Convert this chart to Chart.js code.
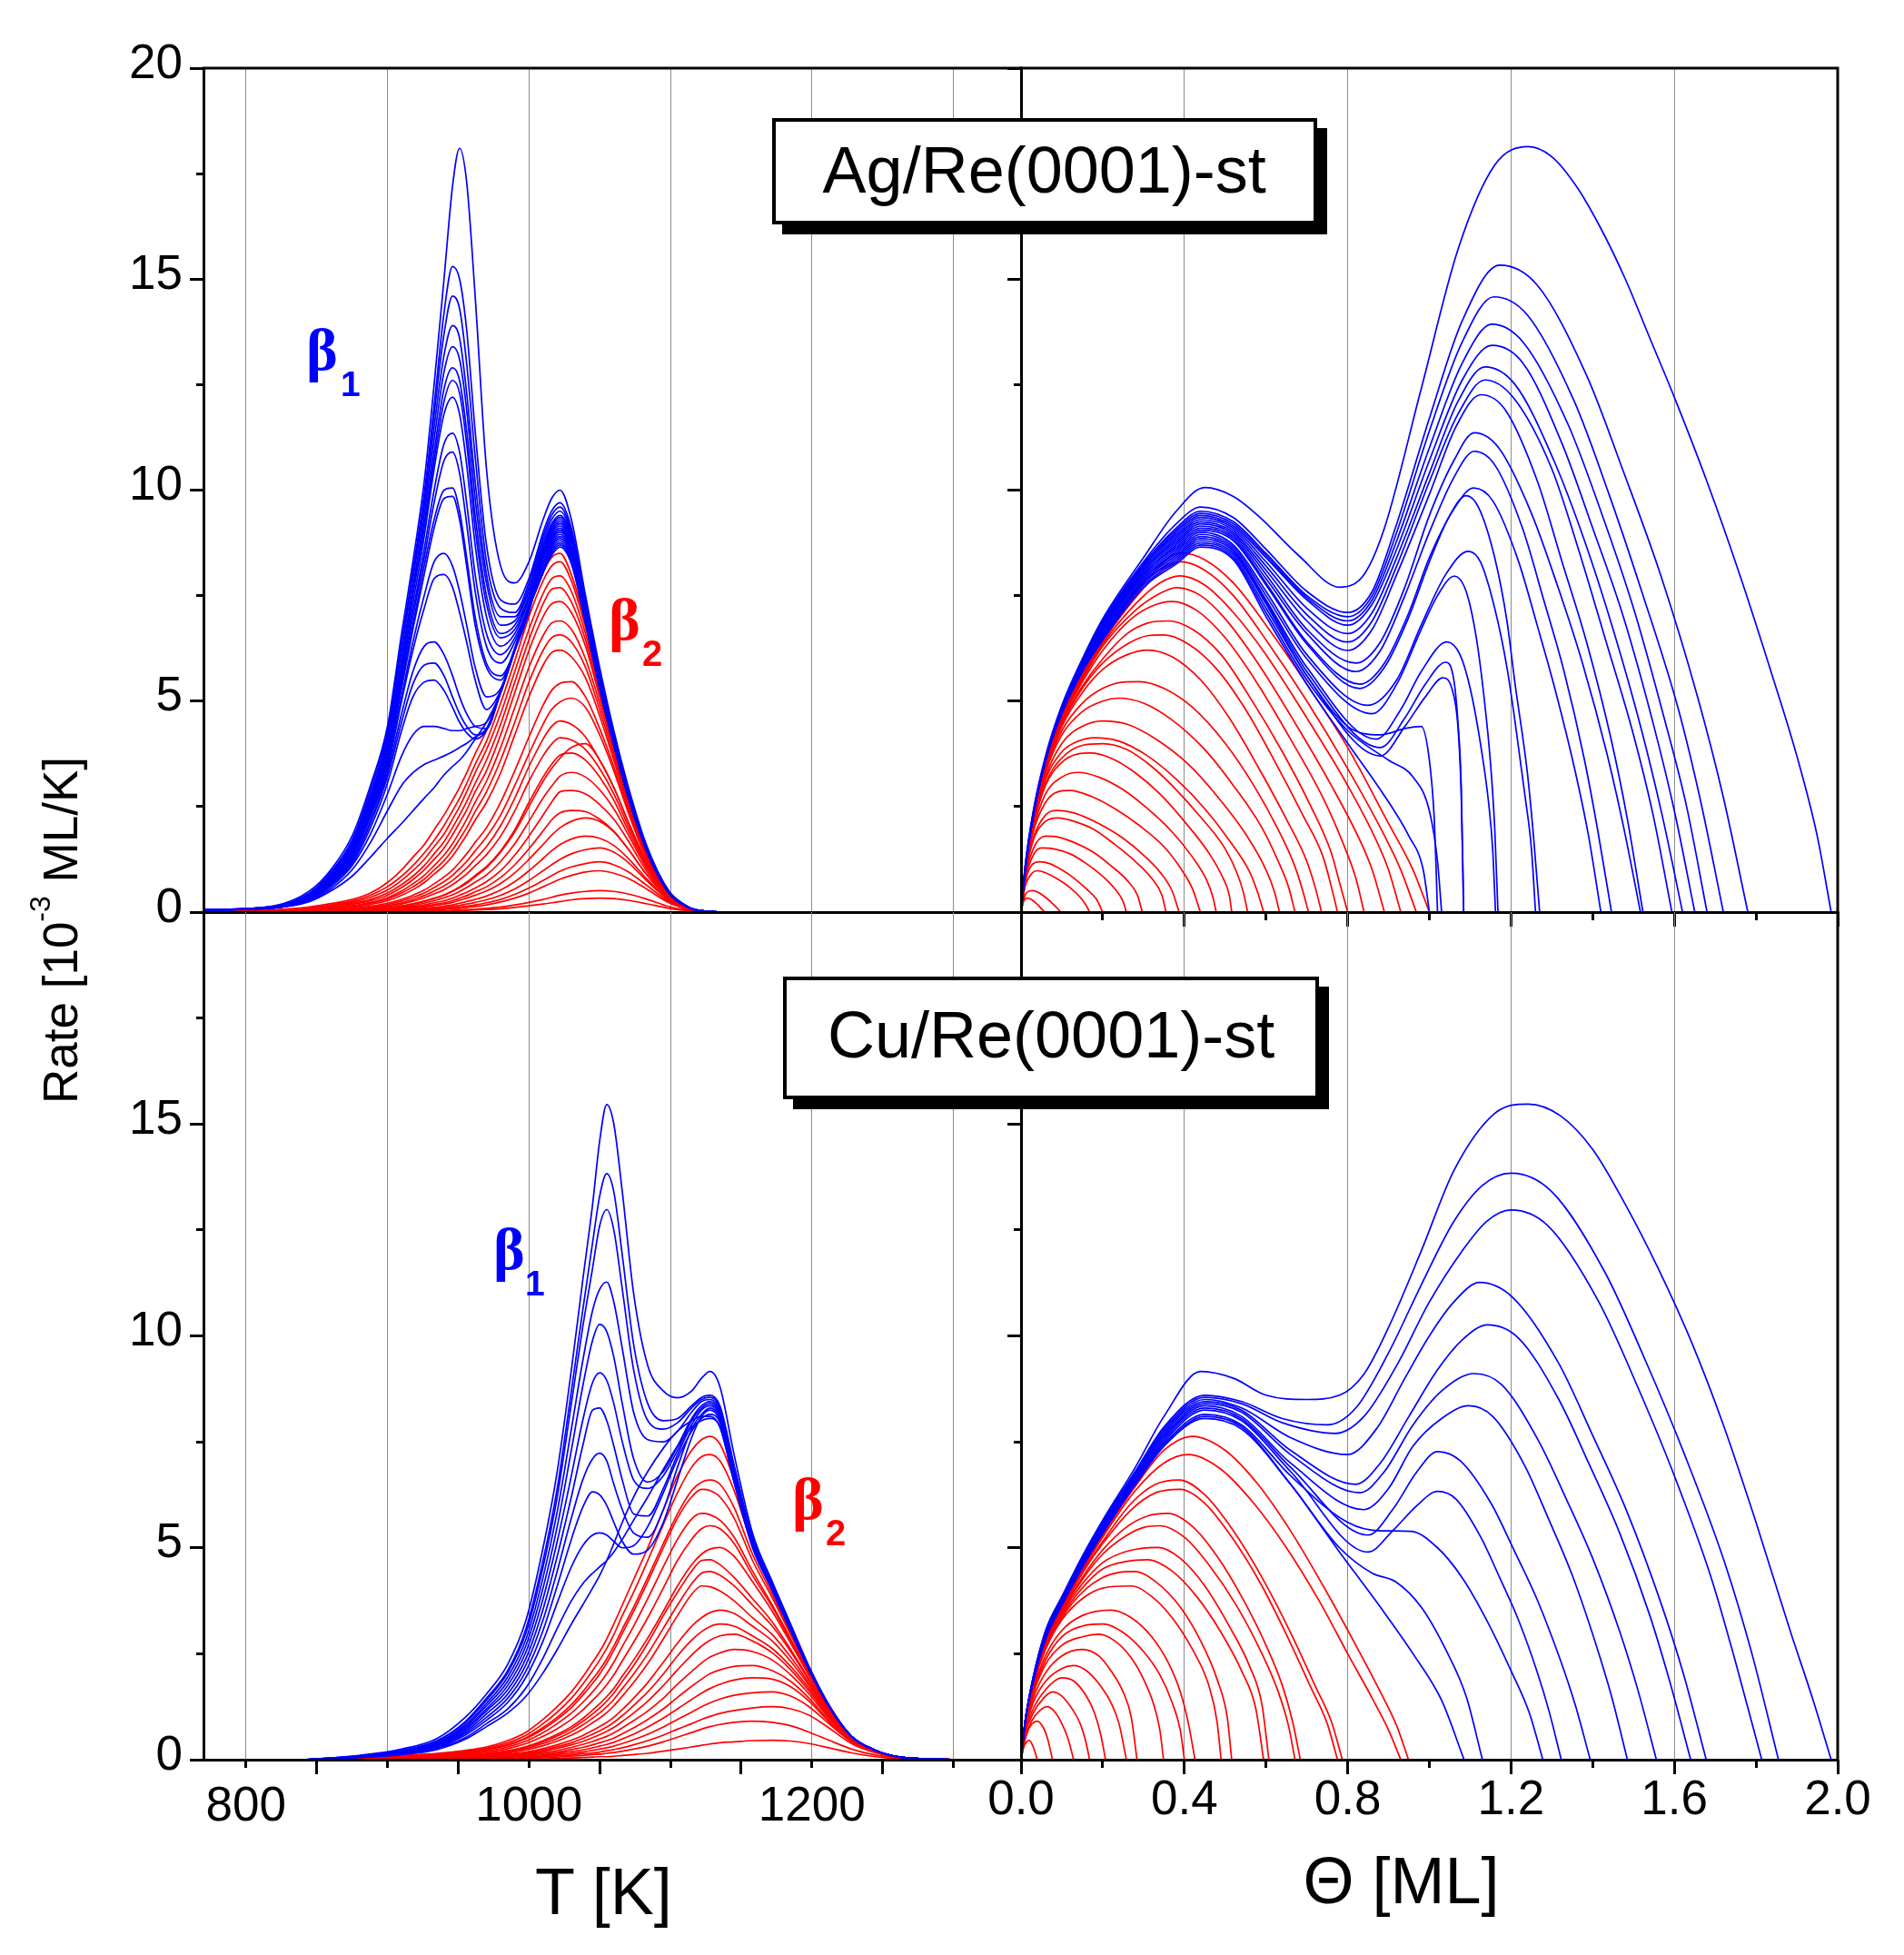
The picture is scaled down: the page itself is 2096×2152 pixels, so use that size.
<!DOCTYPE html>
<html><head><meta charset="utf-8">
<script src="https://cdn.jsdelivr.net/npm/chart.js@4.4.1/dist/chart.umd.min.js"></script>
<style>
html,body{margin:0;padding:0;background:#fff;}
#page{position:relative;width:2096px;height:2152px;overflow:hidden;background:#fff;}
canvas{position:absolute;left:0;top:0;}
.txt{position:absolute;white-space:nowrap;line-height:normal;}
.bl{display:inline-block;width:0;height:0;vertical-align:baseline;}
.box{position:absolute;box-sizing:border-box;border:4px solid #000;background:#fff;box-shadow:11px 11px 0 0 #000;}
</style></head>
<body><div id="page">
<canvas id="cTL" width="2096" height="2152" style="width:2096px;height:2152px"></canvas>
<canvas id="cTR" width="2096" height="2152" style="width:2096px;height:2152px"></canvas>
<canvas id="cBL" width="2096" height="2152" style="width:2096px;height:2152px"></canvas>
<canvas id="cBR" width="2096" height="2152" style="width:2096px;height:2152px"></canvas>
</div>
<script>
// ---------------- tick values ----------------
const rateMajorTicks = [0, 5, 10, 15, 20];
const rateMinorTicks = [0, 2.5, 5, 7.5, 10, 12.5, 15, 17.5, 20];
const tempGridTicks = [800, 900, 1000, 1100, 1200, 1300];
const tempLabelTicks = [800, 1000, 1200];
const tempLongTicks = [850, 950, 1050, 1150, 1250];
const thetaMajorTicks = [0, 0.4, 0.8, 1.2, 1.6, 2.0];
const thetaMinorTicks = [0.2, 0.6, 1.0, 1.4, 1.8];

// ---------------- Ag/Re(0001)-st : rate vs T ----------------
const agTempGrid = [770,820,845,860,875,888,900,910,918,926,933,940,946,951,956,962,970,980,990,1000,1010,1016,1022,1030,1040,1050,1060,1070,1083,1099,1110,1118,1140,1215];
const agBlueRate = [
[.05,.15,.5,1.0,1.8,3.0,4.4,6.6,8.3,10.2,12.5,15.0,17.2,18.1,17.3,14.6,10.5,8.2,7.8,8.3,9.3,9.8,10.0,9.3,7.5,5.8,4.3,3.0,1.6,.5,.18,.05,0,0],
[.05,.14,.45,.95,1.7,2.9,4.3,6.4,8.1,9.9,12.0,14.2,15.3,15.0,13.8,11.4,8.7,7.4,7.3,7.9,9.0,9.5,9.7,9.1,7.4,5.7,4.25,2.95,1.55,.48,.17,.05,0,0],
[.05,.14,.45,.9,1.7,2.8,4.2,6.3,8.0,9.8,11.8,13.7,14.6,14.3,13.0,10.8,8.3,7.2,7.1,7.8,8.9,9.4,9.6,9.0,7.35,5.65,4.2,2.9,1.55,.47,.17,.05,0,0],
[.05,.13,.42,.88,1.65,2.75,4.1,6.2,7.9,9.6,11.5,13.2,13.9,13.6,12.3,10.2,8.0,7.0,7.0,7.7,8.8,9.3,9.5,8.95,7.3,5.6,4.2,2.9,1.5,.46,.16,.05,0,0],
[.05,.13,.42,.87,1.6,2.7,4.0,6.0,7.7,9.4,11.2,12.8,13.4,13.1,11.9,9.8,7.8,6.8,6.9,7.6,8.7,9.2,9.4,8.9,7.25,5.6,4.15,2.9,1.5,.46,.16,.05,0,0],
[.05,.13,.4,.85,1.6,2.65,3.95,5.9,7.6,9.2,10.9,12.4,12.9,12.6,11.4,9.4,7.5,6.6,6.8,7.5,8.65,9.15,9.35,8.85,7.2,5.55,4.15,2.85,1.5,.45,.16,.05,0,0],
[.05,.12,.4,.84,1.55,2.6,3.9,5.8,7.5,9.1,10.7,12.1,12.6,12.3,11.1,9.1,7.3,6.5,6.7,7.45,8.6,9.1,9.3,8.8,7.2,5.55,4.1,2.85,1.5,.45,.16,.05,0,0],
[.05,.12,.38,.82,1.5,2.55,3.8,5.7,7.3,8.9,10.5,11.8,12.2,11.8,10.6,8.7,7.0,6.3,6.6,7.4,8.55,9.05,9.25,8.75,7.15,5.5,4.1,2.85,1.5,.45,.16,.05,0,0],
[.05,.12,.38,.8,1.5,2.5,3.7,5.6,7.1,8.6,10.0,11.1,11.35,10.9,9.7,8.0,6.6,6.1,6.5,7.3,8.5,9.0,9.2,8.7,7.1,5.5,4.1,2.85,1.5,.45,.16,.05,0,0],
[.05,.12,.37,.78,1.45,2.45,3.65,5.5,7.0,8.4,9.7,10.7,10.9,10.4,9.2,7.6,6.3,5.9,6.4,7.25,8.45,8.95,9.15,8.65,7.1,5.5,4.05,2.8,1.5,.45,.16,.05,0,0],
[.05,.11,.36,.76,1.4,2.4,3.6,5.4,6.8,8.2,9.3,10.0,10.05,9.5,8.4,7.0,5.9,5.6,6.2,7.1,8.4,8.9,9.1,8.6,7.05,5.45,4.05,2.8,1.5,.45,.16,.05,0,0],
[.05,.11,.36,.75,1.4,2.35,3.55,5.3,6.7,8.0,9.1,9.8,9.85,9.3,8.2,6.8,5.8,5.5,6.25,7.25,8.35,8.85,9.05,8.6,7.05,5.45,4.05,2.8,1.5,.45,.16,.05,0,0],
[.05,.11,.35,.72,1.35,2.3,3.45,5.1,6.4,7.5,8.3,8.5,8.2,7.6,6.8,5.8,5.1,5.3,6.25,7.25,8.25,8.8,9.0,8.55,7.0,5.4,4.0,2.8,1.5,.45,.16,.05,0,0],
[.05,.11,.34,.7,1.3,2.25,3.4,5.0,6.2,7.2,7.9,8.0,7.7,7.1,6.4,5.5,4.8,5.25,6.25,7.22,8.2,8.75,8.95,8.5,7.0,5.4,4.0,2.8,1.5,.45,.16,.05,0,0],
[.05,.1,.33,.68,1.25,2.15,3.3,4.7,5.7,6.3,6.4,6.1,5.6,5.1,4.7,4.4,4.35,5.22,6.22,7.22,8.1,8.7,8.9,8.5,6.95,5.4,4.0,2.8,1.5,.45,.16,.05,0,0],
[.05,.1,.32,.66,1.2,2.1,3.2,4.5,5.4,5.85,5.9,5.6,5.1,4.7,4.4,4.2,4.32,5.21,6.21,7.21,8.05,8.65,8.85,8.45,6.95,5.35,4.0,2.75,1.5,.45,.16,.05,0,0],
[.05,.1,.31,.64,1.15,2.0,3.05,4.3,5.1,5.45,5.5,5.25,4.85,4.5,4.25,4.1,4.31,5.2,6.2,7.2,8.05,8.6,8.8,8.4,6.9,5.35,4.0,2.75,1.5,.45,.16,.05,0,0],
[.05,.1,.3,.6,1.1,1.85,2.8,3.7,4.2,4.4,4.4,4.35,4.3,4.3,4.35,4.4,4.5,5.2,6.2,7.2,8.05,8.55,8.75,8.35,6.9,5.35,4.0,2.75,1.5,.45,.16,.05,0,0],
[.05,.1,.28,.55,1.0,1.65,2.4,3.0,3.3,3.5,3.6,3.7,3.8,3.9,4.0,4.15,4.35,5.2,6.2,7.2,8.05,8.5,8.7,8.3,6.85,5.3,3.95,2.75,1.5,.45,.16,.05,0,0],
[.05,.1,.25,.5,.85,1.3,1.75,2.1,2.4,2.7,2.95,3.25,3.45,3.6,3.8,4.1,4.5,5.2,6.2,7.2,8.05,8.45,8.65,8.25,6.85,5.3,3.95,2.75,1.45,.44,.15,.05,0,0]
];
const agRedRate = [
[0,.05,.12,.2,.3,.45,.7,1.0,1.3,1.6,1.95,2.3,2.65,2.95,3.3,3.75,4.3,5.2,6.2,7.2,8.05,8.4,8.5,8.0,6.85,5.45,4.1,2.8,1.45,.42,.15,.04,0,0],
[0,.05,.1,.17,.26,.4,.6,.85,1.1,1.4,1.7,2.05,2.4,2.7,3.05,3.5,4.05,4.95,5.95,7.0,7.85,8.2,8.3,7.85,6.75,5.4,4.05,2.75,1.43,.42,.15,.04,0,0],
[0,.04,.09,.15,.23,.35,.52,.75,.98,1.25,1.55,1.85,2.2,2.5,2.85,3.3,3.85,4.7,5.7,6.7,7.55,7.9,7.97,7.6,6.6,5.3,4.0,2.7,1.42,.42,.15,.04,0,0],
[0,.04,.08,.13,.2,.3,.45,.65,.85,1.1,1.38,1.67,2.0,2.3,2.62,3.05,3.6,4.45,5.45,6.45,7.3,7.65,7.69,7.35,6.45,5.2,3.95,2.68,1.4,.42,.15,.04,0,0],
[0,.04,.07,.12,.18,.27,.4,.58,.77,1.0,1.25,1.52,1.83,2.12,2.42,2.85,3.35,4.2,5.2,6.2,7.0,7.3,7.36,7.1,6.3,5.1,3.9,2.65,1.38,.41,.15,.04,0,0],
[0,.03,.06,.1,.15,.23,.34,.5,.67,.87,1.1,1.35,1.62,1.9,2.2,2.6,3.1,3.9,4.85,5.8,6.55,6.85,6.9,6.7,6.0,4.95,3.8,2.6,1.36,.41,.15,.04,0,0],
[0,.03,.05,.09,.14,.21,.31,.45,.6,.78,1.0,1.22,1.47,1.73,2.0,2.38,2.85,3.6,4.5,5.45,6.2,6.5,6.57,6.4,5.8,4.8,3.7,2.55,1.34,.4,.15,.04,0,0],
[0,.03,.05,.08,.12,.18,.27,.4,.53,.7,.9,1.1,1.33,1.57,1.83,2.18,2.6,3.3,4.2,5.1,5.85,6.15,6.21,6.05,5.55,4.65,3.6,2.5,1.32,.4,.15,.04,0,0],
[0,.02,.04,.06,.09,.14,.21,.3,.4,.52,.67,.83,1.0,1.18,1.38,1.65,2.0,2.6,3.35,4.15,4.9,5.25,5.42,5.46,5.1,4.35,3.45,2.42,1.3,.4,.15,.04,0,0],
[0,.02,.03,.05,.08,.12,.18,.26,.35,.45,.58,.72,.87,1.03,1.2,1.45,1.78,2.3,3.0,3.75,4.45,4.8,4.98,5.07,4.85,4.2,3.35,2.38,1.28,.4,.15,.04,0,0],
[0,.02,.03,.05,.07,.1,.15,.22,.3,.39,.5,.62,.75,.89,1.04,1.26,1.55,2.05,2.7,3.45,4.1,4.4,4.53,4.45,4.15,3.6,2.95,2.15,1.2,.38,.14,.04,0,0],
[0,.02,.03,.04,.06,.09,.13,.19,.26,.34,.43,.53,.65,.77,.9,1.1,1.36,1.8,2.4,3.1,3.7,3.98,4.13,4.08,3.85,3.4,2.8,2.05,1.15,.37,.14,.04,0,0],
[0,.01,.02,.03,.05,.07,.1,.14,.19,.25,.32,.4,.49,.58,.68,.84,1.05,1.42,1.9,2.5,3.1,3.4,3.65,3.9,3.99,3.6,2.95,2.15,1.2,.38,.14,.04,0,0],
[0,.01,.02,.03,.05,.07,.1,.15,.2,.26,.33,.41,.5,.6,.71,.87,1.08,1.45,1.95,2.6,3.2,3.5,3.72,3.77,3.6,3.2,2.65,1.95,1.1,.36,.13,.04,0,0],
[0,.01,.02,.03,.04,.06,.08,.12,.16,.21,.27,.34,.41,.49,.58,.71,.88,1.2,1.62,2.15,2.7,2.98,3.22,3.31,3.2,2.9,2.45,1.85,1.05,.35,.13,.04,0,0],
[0,.01,.02,.02,.03,.05,.07,.1,.13,.17,.22,.27,.33,.4,.47,.57,.72,.98,1.35,1.8,2.3,2.6,2.85,2.88,2.8,2.55,2.2,1.7,.98,.33,.12,.04,0,0],
[0,.01,.01,.02,.03,.04,.06,.08,.11,.14,.18,.22,.27,.33,.39,.48,.6,.82,1.12,1.5,1.92,2.18,2.35,2.41,2.38,2.2,1.92,1.5,.9,.31,.12,.04,0,0],
[0,.01,.01,.02,.02,.03,.05,.07,.09,.12,.15,.19,.23,.28,.33,.4,.5,.68,.93,1.25,1.6,1.82,2.0,2.15,2.23,2.15,1.9,1.5,.9,.31,.12,.04,0,0],
[0,.01,.01,.01,.02,.03,.04,.05,.07,.09,.11,.14,.17,.21,.25,.3,.38,.52,.72,.98,1.27,1.45,1.6,1.73,1.8,1.75,1.58,1.28,.8,.29,.11,.03,0,0],
[0,0,.01,.01,.02,.02,.03,.04,.05,.07,.09,.11,.13,.16,.19,.23,.29,.4,.55,.75,.98,1.12,1.25,1.38,1.48,1.52,1.42,1.18,.75,.28,.1,.03,0,0],
[0,0,.01,.01,.01,.02,.02,.03,.04,.05,.07,.08,.1,.12,.14,.17,.22,.3,.42,.57,.75,.86,.97,1.07,1.15,1.19,1.12,.96,.64,.25,.1,.03,0,0],
[0,0,0,.01,.01,.01,.02,.03,.03,.04,.05,.06,.08,.09,.11,.13,.17,.24,.33,.45,.6,.69,.78,.87,.95,.98,.92,.8,.55,.22,.09,.03,0,0],
[0,0,0,0,.01,.01,.01,.02,.02,.02,.03,.03,.04,.05,.06,.07,.09,.12,.17,.23,.3,.35,.4,.45,.49,.51,.49,.43,.31,.13,.06,.02,0,0],
[0,0,0,0,0,.01,.01,.01,.01,.02,.02,.02,.03,.03,.04,.05,.06,.08,.11,.15,.19,.22,.25,.29,.32,.33,.32,.28,.2,.09,.04,.01,0,0]
];

// ---------------- Ag/Re(0001)-st : rate vs coverage ([theta, rate]) ----------------
const agThetaBlue = [
[[0,0],[0.01,1.1],[0.03,2.4],[0.06,3.7],[0.1,4.9],[0.15,6.0],[0.2,6.95],[0.3,8.4],[0.38,9.5],[0.45,10.06],[0.52,9.85],[0.58,9.4],[0.68,8.45],[0.78,7.7],[0.84,8.0],[0.89,9.1],[0.98,12.4],[1.07,15.7],[1.16,17.7],[1.242,18.14],[1.3,17.9],[1.36,17.2],[1.42,16.2],[1.48,15.0],[1.54,13.6],[1.6,12.2],[1.68,10.2],[1.76,8.0],[1.84,5.6],[1.9,3.7],[1.95,1.8],[1.984,0]],
[[0,0],[0.01,1.05],[0.03,2.35],[0.06,3.65],[0.1,4.85],[0.15,5.95],[0.2,6.9],[0.3,8.3],[0.38,9.2],[0.44,9.6],[0.52,9.35],[0.6,8.6],[0.7,7.6],[0.8,7.1],[0.86,7.6],[0.92,9.2],[1.0,11.7],[1.08,14.0],[1.172,15.33],[1.263,14.87],[1.385,12.72],[1.476,10.42],[1.567,7.97],[1.658,5.06],[1.719,2.76],[1.78,0]],
[[0,0],[0.01,1.05],[0.03,2.35],[0.06,3.65],[0.1,4.85],[0.15,5.9],[0.2,6.85],[0.3,8.25],[0.38,9.1],[0.44,9.5],[0.52,9.25],[0.6,8.5],[0.7,7.5],[0.8,7.0],[0.86,7.5],[0.92,9.0],[1.0,11.4],[1.08,13.5],[1.158,14.58],[1.24,14.15],[1.355,12.1],[1.44,9.9],[1.52,7.6],[1.61,4.8],[1.665,2.6],[1.72,0]],
[[0,0],[0.01,1.05],[0.03,2.35],[0.06,3.65],[0.1,4.85],[0.15,5.9],[0.2,6.85],[0.3,8.25],[0.38,9.05],[0.44,9.45],[0.52,9.2],[0.6,8.45],[0.7,7.45],[0.8,6.9],[0.86,7.4],[0.92,8.8],[1.0,11.0],[1.08,13.0],[1.153,13.93],[1.23,13.5],[1.34,11.55],[1.42,9.5],[1.5,7.2],[1.575,4.6],[1.63,2.5],[1.68,0]],
[[0,0],[0.01,1.0],[0.03,2.3],[0.06,3.6],[0.1,4.8],[0.15,5.9],[0.2,6.8],[0.3,8.2],[0.38,9.0],[0.44,9.4],[0.52,9.15],[0.6,8.4],[0.7,7.4],[0.8,6.8],[0.86,7.3],[0.92,8.6],[1.0,10.7],[1.08,12.6],[1.153,13.43],[1.23,13.0],[1.325,11.1],[1.4,9.1],[1.475,7.0],[1.55,4.4],[1.6,2.4],[1.65,0]],
[[0,0],[0.01,1.0],[0.03,2.3],[0.06,3.6],[0.1,4.8],[0.15,5.9],[0.2,6.8],[0.3,8.2],[0.38,8.95],[0.44,9.35],[0.52,9.1],[0.6,8.3],[0.7,7.2],[0.8,6.6],[0.86,7.1],[0.92,8.4],[1.0,10.4],[1.07,12.1],[1.136,12.92],[1.21,12.5],[1.305,10.7],[1.38,8.8],[1.45,6.7],[1.52,4.3],[1.57,2.3],[1.62,0]],
[[0,0],[0.01,1.0],[0.03,2.3],[0.06,3.6],[0.1,4.8],[0.15,5.85],[0.2,6.75],[0.3,8.15],[0.38,8.9],[0.44,9.3],[0.52,9.05],[0.6,8.2],[0.7,7.05],[0.8,6.4],[0.86,6.9],[0.92,8.2],[1.0,10.2],[1.07,11.8],[1.136,12.61],[1.205,12.2],[1.3,10.5],[1.365,8.6],[1.43,6.5],[1.5,4.2],[1.548,2.3],[1.594,0]],
[[0,0],[0.01,1.0],[0.03,2.3],[0.06,3.6],[0.1,4.8],[0.15,5.85],[0.2,6.75],[0.3,8.1],[0.38,8.85],[0.44,9.25],[0.52,9.0],[0.6,8.1],[0.7,6.9],[0.8,6.2],[0.86,6.7],[0.92,8.0],[1.0,9.9],[1.065,11.5],[1.126,12.26],[1.186,11.9],[1.265,10.2],[1.325,8.3],[1.385,6.4],[1.445,4.1],[1.485,2.2],[1.523,0]],
[[0,0],[0.01,1.0],[0.03,2.3],[0.06,3.6],[0.1,4.8],[0.15,5.85],[0.2,6.7],[0.3,8.1],[0.38,8.8],[0.44,9.2],[0.52,8.95],[0.6,8.0],[0.7,6.7],[0.82,5.9],[0.88,6.4],[0.94,7.7],[1.0,9.4],[1.06,10.7],[1.11,11.36],[1.17,11.0],[1.25,9.45],[1.315,7.7],[1.375,5.9],[1.435,3.75],[1.476,2.0],[1.517,0]],
[[0,0],[0.01,1.0],[0.03,2.3],[0.06,3.6],[0.1,4.8],[0.15,5.8],[0.2,6.7],[0.3,8.05],[0.38,8.75],[0.44,9.15],[0.52,8.9],[0.6,7.9],[0.7,6.6],[0.82,5.7],[0.88,6.2],[0.94,7.5],[1.0,9.0],[1.06,10.3],[1.11,10.92],[1.16,10.6],[1.228,9.1],[1.28,7.4],[1.33,5.7],[1.38,3.6],[1.413,1.9],[1.446,0]],
[[0,0],[0.01,1.0],[0.03,2.3],[0.06,3.6],[0.1,4.8],[0.15,5.8],[0.2,6.7],[0.3,8.0],[0.38,8.7],[0.44,9.1],[0.52,8.85],[0.6,7.8],[0.7,6.4],[0.83,5.4],[0.89,5.9],[0.95,7.1],[1.0,8.4],[1.06,9.55],[1.108,10.05],[1.155,9.75],[1.217,8.35],[1.264,6.8],[1.31,5.2],[1.358,3.3],[1.39,1.8],[1.42,0]],
[[0,0],[0.01,1.0],[0.03,2.3],[0.06,3.6],[0.1,4.8],[0.15,5.8],[0.2,6.65],[0.3,8.0],[0.38,8.65],[0.44,9.05],[0.52,8.8],[0.6,7.75],[0.7,6.35],[0.83,5.3],[0.89,5.8],[0.95,7.0],[1.0,8.3],[1.05,9.4],[1.09,9.87],[1.12,9.6],[1.16,8.4],[1.19,6.9],[1.21,5.4],[1.24,3.3],[1.255,1.8],[1.27,0]],
[[0,0],[0.01,1.0],[0.03,2.3],[0.06,3.6],[0.1,4.8],[0.15,5.8],[0.2,6.65],[0.3,7.95],[0.38,8.6],[0.44,9.0],[0.52,8.7],[0.6,7.6],[0.7,6.1],[0.85,4.9],[0.92,5.5],[0.98,6.8],[1.04,8.0],[1.095,8.55],[1.125,8.3],[1.16,7.2],[1.19,5.8],[1.21,4.5],[1.235,2.7],[1.25,1.5],[1.26,0]],
[[0,0],[0.01,1.0],[0.03,2.3],[0.06,3.6],[0.1,4.8],[0.15,5.8],[0.2,6.6],[0.3,7.9],[0.38,8.55],[0.44,8.95],[0.52,8.65],[0.6,7.5],[0.7,6.0],[0.86,4.7],[0.92,5.4],[0.98,6.7],[1.02,7.5],[1.061,7.96],[1.09,7.6],[1.115,6.5],[1.135,5.0],[1.15,3.5],[1.16,2.0],[1.168,0]],
[[0,0],[0.01,1.0],[0.03,2.3],[0.06,3.6],[0.1,4.8],[0.15,5.8],[0.2,6.6],[0.3,7.9],[0.38,8.5],[0.44,8.9],[0.52,8.6],[0.6,7.4],[0.7,5.8],[0.87,4.1],[0.93,4.8],[0.98,5.7],[1.043,6.4],[1.075,6.1],[1.1,5.3],[1.125,4.0],[1.145,2.6],[1.155,1.5],[1.162,0]],
[[0,0],[0.01,1.0],[0.03,2.3],[0.06,3.6],[0.1,4.8],[0.15,5.75],[0.2,6.55],[0.3,7.85],[0.38,8.45],[0.44,8.85],[0.52,8.55],[0.6,7.35],[0.7,5.7],[0.88,3.9],[0.94,4.6],[0.99,5.4],[1.04,5.92],[1.06,5.5],[1.07,4.5],[1.078,3.0],[1.084,0]],
[[0,0],[0.01,1.0],[0.03,2.3],[0.06,3.6],[0.1,4.75],[0.15,5.75],[0.2,6.55],[0.3,7.8],[0.38,8.4],[0.44,8.8],[0.52,8.5],[0.6,7.3],[0.7,5.6],[0.88,3.7],[0.94,4.4],[0.99,5.1],[1.033,5.55],[1.055,5.3],[1.07,4.4],[1.078,2.8],[1.084,0]],
[[0,0],[0.01,1.0],[0.03,2.3],[0.06,3.6],[0.1,4.75],[0.15,5.75],[0.2,6.5],[0.3,7.8],[0.38,8.35],[0.44,8.75],[0.52,8.45],[0.6,7.2],[0.7,5.6],[0.8,4.4],[0.88,4.2],[0.94,4.35],[0.98,4.4],[1.0,3.6],[1.012,2.2],[1.02,0]],
[[0,0],[0.01,1.0],[0.03,2.3],[0.06,3.6],[0.1,4.75],[0.15,5.7],[0.2,6.5],[0.3,7.75],[0.38,8.3],[0.44,8.7],[0.52,8.4],[0.6,7.1],[0.7,5.5],[0.8,4.3],[0.9,3.6],[0.96,3.2],[1.0,2.4],[1.02,1.2],[1.03,0]],
[[0,0],[0.01,1.0],[0.03,2.3],[0.06,3.6],[0.1,4.7],[0.15,5.7],[0.2,6.45],[0.3,7.7],[0.38,8.25],[0.44,8.65],[0.52,8.35],[0.6,7.0],[0.7,5.4],[0.8,4.0],[0.88,2.9],[0.95,1.8],[0.985,1.0],[1.0,0]]
];
const agThetaRed = [
[[0,0],[0.01,.95],[0.03,2.2],[0.06,3.5],[0.1,4.65],[0.15,5.65],[0.2,6.45],[0.28,7.55],[0.34,8.2],[0.39,8.51],[0.45,8.35],[0.52,7.8],[0.6,6.8],[0.7,5.4],[0.8,3.9],[0.9,2.1],[0.96,1.0],[1.0,0]],
[[0,0],[0.01,.95],[0.03,2.2],[0.06,3.5],[0.1,4.65],[0.15,5.6],[0.2,6.4],[0.28,7.45],[0.34,8.05],[0.39,8.3],[0.45,8.1],[0.52,7.5],[0.6,6.45],[0.7,5.0],[0.8,3.4],[0.88,2.0],[0.93,1.0],[0.968,0]],
[[0,0],[0.01,.95],[0.03,2.2],[0.06,3.5],[0.1,4.6],[0.15,5.55],[0.2,6.35],[0.28,7.3],[0.34,7.8],[0.39,7.97],[0.45,7.75],[0.52,7.1],[0.6,6.1],[0.7,4.6],[0.8,3.0],[0.87,1.7],[0.9,1.0],[0.93,0]],
[[0,0],[0.01,.95],[0.03,2.2],[0.06,3.5],[0.1,4.6],[0.15,5.5],[0.2,6.3],[0.28,7.15],[0.34,7.55],[0.38,7.69],[0.44,7.5],[0.5,6.95],[0.58,5.9],[0.67,4.5],[0.76,3.0],[0.83,1.7],[0.86,1.0],[0.89,0]],
[[0,0],[0.01,.95],[0.03,2.2],[0.06,3.5],[0.1,4.55],[0.15,5.45],[0.2,6.2],[0.27,6.95],[0.32,7.25],[0.37,7.36],[0.43,7.15],[0.5,6.5],[0.58,5.4],[0.66,4.1],[0.74,2.7],[0.79,1.6],[0.82,.8],[0.84,0]],
[[0,0],[0.01,.95],[0.03,2.2],[0.06,3.45],[0.1,4.5],[0.15,5.35],[0.2,6.0],[0.26,6.6],[0.31,6.85],[0.36,6.9],[0.42,6.7],[0.49,6.1],[0.56,5.1],[0.64,3.8],[0.71,2.5],[0.76,1.4],[0.78,.7],[0.8,0]],
[[0,0],[0.01,.95],[0.03,2.2],[0.06,3.45],[0.1,4.45],[0.15,5.3],[0.2,5.9],[0.26,6.35],[0.31,6.55],[0.35,6.57],[0.41,6.35],[0.48,5.75],[0.55,4.8],[0.62,3.6],[0.69,2.3],[0.74,1.3],[0.76,.6],[0.775,0]],
[[0,0],[0.01,.95],[0.03,2.2],[0.06,3.4],[0.1,4.4],[0.15,5.2],[0.2,5.75],[0.26,6.1],[0.31,6.21],[0.37,6.05],[0.44,5.5],[0.51,4.6],[0.58,3.45],[0.65,2.2],[0.7,1.2],[0.72,.6],[0.736,0]],
[[0,0],[0.01,.95],[0.03,2.15],[0.06,3.35],[0.1,4.3],[0.15,4.95],[0.2,5.3],[0.25,5.45],[0.29,5.46],[0.35,5.3],[0.42,4.85],[0.5,4.0],[0.57,3.0],[0.63,1.95],[0.67,1.1],[0.69,.5],[0.704,0]],
[[0,0],[0.01,.95],[0.03,2.15],[0.06,3.3],[0.1,4.2],[0.15,4.75],[0.2,5.0],[0.24,5.07],[0.3,4.95],[0.37,4.55],[0.45,3.85],[0.52,3.0],[0.59,2.0],[0.63,1.2],[0.655,.6],[0.671,0]],
[[0,0],[0.01,.95],[0.03,2.1],[0.06,3.2],[0.1,4.0],[0.15,4.4],[0.2,4.53],[0.26,4.45],[0.33,4.1],[0.41,3.5],[0.48,2.75],[0.55,1.85],[0.6,1.0],[0.62,.5],[0.633,0]],
[[0,0],[0.01,.95],[0.03,2.1],[0.06,3.15],[0.1,3.8],[0.14,4.05],[0.18,4.13],[0.24,4.05],[0.31,3.7],[0.38,3.15],[0.45,2.45],[0.51,1.7],[0.56,.95],[0.58,.45],[0.594,0]],
[[0,0],[0.01,.95],[0.03,2.05],[0.06,3.05],[0.1,3.65],[0.15,3.95],[0.2,3.99],[0.26,3.85],[0.32,3.45],[0.38,2.9],[0.44,2.25],[0.5,1.5],[0.53,.9],[0.545,.45],[0.555,0]],
[[0,0],[0.01,.95],[0.03,2.05],[0.06,3.0],[0.1,3.55],[0.14,3.75],[0.17,3.77],[0.22,3.65],[0.28,3.3],[0.34,2.8],[0.4,2.15],[0.46,1.4],[0.495,.8],[0.51,.4],[0.516,0]],
[[0,0],[0.01,.9],[0.03,1.95],[0.06,2.8],[0.1,3.2],[0.14,3.31],[0.19,3.2],[0.25,2.9],[0.31,2.45],[0.37,1.9],[0.42,1.3],[0.455,.75],[0.47,.35],[0.478,0]],
[[0,0],[0.01,.9],[0.03,1.9],[0.06,2.6],[0.09,2.85],[0.12,2.88],[0.17,2.75],[0.23,2.45],[0.29,2.05],[0.35,1.55],[0.39,1.05],[0.42,.55],[0.439,0]],
[[0,0],[0.01,.85],[0.03,1.75],[0.06,2.3],[0.09,2.41],[0.13,2.35],[0.19,2.1],[0.25,1.75],[0.3,1.35],[0.34,.95],[0.37,.5],[0.387,0]],
[[0,0],[0.01,.85],[0.03,1.7],[0.06,2.15],[0.09,2.23],[0.13,2.15],[0.18,1.95],[0.23,1.6],[0.28,1.2],[0.32,.8],[0.345,.4],[0.355,0]],
[[0,0],[0.01,.8],[0.03,1.5],[0.06,1.8],[0.09,1.78],[0.13,1.65],[0.18,1.4],[0.22,1.1],[0.26,.75],[0.285,.4],[0.297,0]],
[[0,0],[0.01,.75],[0.03,1.35],[0.05,1.52],[0.08,1.5],[0.12,1.38],[0.16,1.15],[0.2,.85],[0.23,.55],[0.25,.25],[0.258,0]],
[[0,0],[0.01,.7],[0.025,1.1],[0.045,1.19],[0.07,1.15],[0.1,1.0],[0.13,.8],[0.16,.55],[0.185,.3],[0.2,0]],
[[0,0],[0.01,.6],[0.025,.9],[0.04,.98],[0.06,.93],[0.09,.78],[0.12,.58],[0.145,.35],[0.16,.15],[0.168,0]],
[[0,0],[0.008,.35],[0.02,.5],[0.03,.51],[0.045,.45],[0.06,.35],[0.075,.22],[0.09,.08],[0.097,0]],
[[0,0],[0.006,.25],[0.015,.33],[0.025,.3],[0.038,.2],[0.05,.08],[0.058,0]]
];

// ---------------- Cu/Re(0001)-st : rate vs T ----------------
const cuTempGrid = [842,880,910,935,955,970,985,998,1010,1020,1030,1038,1045,1050,1055,1060,1066,1074,1084,1095,1105,1115,1122,1128,1135,1145,1158,1172,1185,1198,1212,1228,1245,1262,1280,1308];
const cuBlueRate = [
[0,.1,.25,.5,1.0,1.55,2.25,3.3,5.0,6.8,9.2,11.3,13.1,14.6,15.46,15.0,13.4,11.0,9.3,8.7,8.54,8.7,9.0,9.16,8.8,7.2,5.35,4.2,3.2,2.2,1.3,.55,.22,.06,.02,0],
[0,.09,.22,.45,.9,1.45,2.1,3.1,4.7,6.4,8.7,10.6,12.2,13.3,13.83,13.4,11.9,9.8,8.4,8.0,8.05,8.35,8.55,8.6,8.35,6.95,5.25,4.15,3.15,2.17,1.28,.55,.22,.06,.02,0],
[0,.09,.21,.43,.87,1.4,2.05,3.0,4.55,6.2,8.4,10.2,11.6,12.6,12.98,12.5,11.1,9.2,8.0,7.8,7.95,8.3,8.5,8.55,8.3,6.9,5.2,4.1,3.12,2.15,1.27,.55,.22,.06,.02,0],
[0,.08,.2,.4,.82,1.33,1.95,2.85,4.3,5.85,7.8,9.4,10.6,11.1,11.27,10.8,9.7,8.2,7.55,7.5,7.75,8.2,8.45,8.5,8.25,6.85,5.2,4.1,3.1,2.15,1.27,.55,.22,.06,.02,0],
[0,.08,.19,.38,.78,1.27,1.85,2.7,4.05,5.5,7.3,8.8,9.9,10.27,10.1,9.5,8.4,7.1,6.55,6.8,7.4,8.05,8.35,8.45,8.2,6.8,5.15,4.08,3.1,2.15,1.27,.55,.22,.06,.02,0],
[0,.08,.18,.36,.74,1.2,1.75,2.55,3.8,5.15,6.7,8.0,8.9,9.13,8.95,8.4,7.5,6.6,6.4,6.7,7.3,8.0,8.3,8.4,8.15,6.75,5.15,4.07,3.1,2.15,1.27,.55,.22,.06,.02,0],
[0,.07,.17,.34,.7,1.15,1.65,2.4,3.55,4.8,6.2,7.4,8.25,8.3,8.0,7.4,6.6,5.8,5.75,6.4,7.2,7.9,8.25,8.35,8.1,6.7,5.1,4.05,3.1,2.15,1.27,.55,.22,.06,.02,0],
[0,.07,.16,.32,.66,1.08,1.55,2.25,3.3,4.45,5.7,6.6,7.1,7.23,7.05,6.5,5.9,5.35,5.25,5.9,6.9,7.8,8.15,8.3,8.05,6.7,5.1,4.05,3.1,2.15,1.27,.55,.22,.06,.02,0],
[0,.07,.15,.3,.62,1.0,1.45,2.1,3.05,4.1,5.2,5.95,6.32,6.25,6.0,5.6,5.15,4.85,4.95,5.6,6.6,7.6,8.1,8.25,8.0,6.65,5.1,4.05,3.1,2.15,1.27,.55,.22,.06,.02,0],
[0,.06,.14,.28,.58,.93,1.35,1.95,2.8,3.7,4.55,5.05,5.3,5.35,5.3,5.15,5.0,5.05,5.5,6.3,7.1,7.75,8.05,8.15,7.95,6.6,5.05,4.0,3.05,2.12,1.26,.55,.22,.06,.02,0],
[0,.06,.13,.26,.52,.85,1.2,1.7,2.4,3.1,3.75,4.15,4.4,4.55,4.7,4.9,5.2,5.65,6.2,6.85,7.4,7.85,8.0,8.05,7.85,6.55,5.05,4.0,3.05,2.12,1.26,.55,.22,.06,.02,0],
[0,.05,.12,.24,.48,.78,1.1,1.5,2.05,2.6,3.2,3.65,4.05,4.35,4.7,5.1,5.6,6.2,6.8,7.35,7.75,8.0,8.1,8.1,7.85,6.55,5.0,4.0,3.05,2.12,1.26,.55,.22,.06,.02,0]
];
const cuRedRate = [
[0,.05,.1,.15,.22,.3,.45,.65,.95,1.25,1.6,1.95,2.3,2.55,2.85,3.2,3.65,4.25,5.0,5.9,6.7,7.3,7.55,7.63,7.45,6.6,5.15,4.05,3.05,2.12,1.25,.54,.21,.06,.02,0],
[0,.04,.09,.13,.2,.27,.4,.58,.85,1.12,1.45,1.78,2.1,2.35,2.63,2.95,3.4,3.95,4.7,5.55,6.3,6.9,7.15,7.2,7.05,6.35,5.05,4.0,3.02,2.1,1.24,.54,.21,.06,.02,0],
[0,.04,.08,.12,.18,.25,.36,.52,.76,1.0,1.3,1.6,1.9,2.12,2.38,2.68,3.08,3.6,4.3,5.1,5.8,6.35,6.55,6.6,6.5,5.95,4.85,3.9,2.98,2.08,1.23,.53,.21,.06,.02,0],
[0,.04,.08,.12,.17,.24,.34,.5,.72,.95,1.23,1.52,1.8,2.02,2.28,2.58,2.98,3.5,4.2,5.0,5.7,6.2,6.38,6.35,6.2,5.7,4.7,3.82,2.95,2.06,1.22,.53,.21,.06,.02,0],
[0,.03,.07,.1,.15,.21,.3,.44,.64,.85,1.1,1.35,1.6,1.8,2.03,2.3,2.67,3.15,3.8,4.55,5.2,5.68,5.81,5.78,5.65,5.25,4.45,3.65,2.85,2.02,1.2,.52,.21,.06,.02,0],
[0,.03,.06,.09,.13,.18,.26,.38,.55,.73,.95,1.17,1.4,1.57,1.77,2.0,2.33,2.77,3.35,4.05,4.7,5.2,5.45,5.52,5.45,5.1,4.35,3.6,2.8,2.0,1.19,.52,.21,.06,.02,0],
[0,.03,.05,.08,.11,.15,.21,.31,.45,.6,.78,.97,1.17,1.32,1.49,1.68,1.97,2.35,2.87,3.5,4.1,4.6,4.85,4.97,5.01,4.8,4.2,3.5,2.75,1.98,1.18,.52,.21,.06,.02,0],
[0,.02,.05,.07,.1,.14,.2,.29,.42,.56,.73,.9,1.08,1.22,1.38,1.57,1.85,2.22,2.75,3.4,3.95,4.45,4.7,4.72,4.6,4.3,3.8,3.25,2.6,1.9,1.15,.51,.2,.06,.02,0],
[0,.02,.04,.06,.09,.13,.18,.26,.38,.5,.66,.82,.98,1.1,1.25,1.42,1.68,2.02,2.5,3.1,3.65,4.15,4.4,4.44,4.35,4.1,3.65,3.15,2.55,1.87,1.14,.51,.2,.06,.02,0],
[0,.02,.04,.06,.08,.11,.16,.23,.33,.44,.58,.72,.87,.98,1.11,1.27,1.5,1.82,2.27,2.85,3.4,3.9,4.1,4.08,3.98,3.75,3.35,2.95,2.42,1.8,1.1,.5,.2,.06,.02,0],
[0,.02,.03,.05,.07,.09,.13,.18,.26,.35,.46,.57,.69,.78,.88,1.0,1.18,1.45,1.82,2.3,2.75,3.15,3.35,3.47,3.53,3.45,3.15,2.8,2.32,1.75,1.08,.49,.2,.06,.02,0],
[0,.01,.03,.04,.06,.08,.11,.16,.23,.31,.4,.5,.6,.68,.77,.88,1.04,1.28,1.6,2.02,2.45,2.82,3.02,3.14,3.2,3.15,2.92,2.62,2.2,1.68,1.05,.48,.2,.06,.02,0],
[0,.01,.02,.04,.05,.07,.1,.14,.2,.27,.35,.43,.52,.59,.67,.76,.9,1.1,1.38,1.75,2.12,2.47,2.68,2.82,2.92,2.96,2.8,2.52,2.12,1.62,1.02,.47,.19,.06,.02,0],
[0,.01,.02,.03,.04,.06,.08,.12,.17,.22,.29,.36,.43,.49,.55,.63,.75,.92,1.15,1.45,1.78,2.08,2.28,2.42,2.52,2.6,2.55,2.35,2.0,1.55,.98,.46,.19,.06,.02,0],
[0,.01,.02,.03,.04,.05,.07,.1,.14,.18,.24,.29,.35,.4,.45,.51,.61,.75,.95,1.2,1.47,1.73,1.9,2.03,2.12,2.2,2.22,2.1,1.85,1.45,.93,.44,.18,.05,.02,0],
[0,.01,.01,.02,.03,.04,.06,.08,.11,.15,.19,.23,.28,.32,.36,.41,.49,.6,.77,.98,1.2,1.42,1.57,1.68,1.78,1.88,1.93,1.9,1.72,1.38,.9,.43,.18,.05,.02,0],
[0,0,.01,.02,.02,.03,.05,.06,.09,.12,.15,.18,.22,.25,.28,.32,.38,.47,.6,.77,.95,1.12,1.25,1.34,1.43,1.52,1.58,1.6,1.5,1.25,.85,.42,.18,.05,.02,0],
[0,0,.01,.01,.02,.02,.03,.05,.07,.09,.11,.14,.16,.18,.21,.24,.28,.35,.45,.58,.72,.85,.95,1.02,1.09,1.16,1.22,1.25,1.2,1.05,.75,.38,.16,.05,.02,0],
[0,0,0,.01,.01,.02,.02,.03,.05,.06,.08,.1,.12,.13,.15,.17,.2,.25,.32,.42,.53,.64,.72,.78,.83,.88,.91,.88,.8,.65,.46,.25,.11,.04,.01,0],
[0,0,0,0,.01,.01,.01,.02,.02,.03,.04,.05,.06,.07,.07,.08,.1,.12,.15,.2,.25,.3,.34,.37,.4,.42,.45,.46,.44,.38,.28,.16,.07,.02,.01,0]
];

// ---------------- Cu/Re(0001)-st : rate vs coverage ([theta, rate]) ----------------
const cuThetaBlue = [
[[0,0],[0.01,.9],[0.03,1.95],[0.06,3.05],[0.1,3.85],[0.15,4.8],[0.2,5.65],[0.28,6.9],[0.35,8.1],[0.44,9.16],[0.52,9.0],[0.6,8.6],[0.7,8.5],[0.78,8.6],[0.84,9.1],[0.9,10.2],[0.98,12.0],[1.06,13.9],[1.16,15.25],[1.242,15.47],[1.32,15.2],[1.4,14.4],[1.48,13.1],[1.56,11.6],[1.64,9.9],[1.72,7.9],[1.8,5.6],[1.885,3.0],[1.94,1.4],[1.984,0]],
[[0,0],[0.01,.9],[0.03,1.95],[0.06,3.0],[0.1,3.8],[0.15,4.75],[0.2,5.6],[0.28,6.8],[0.35,7.85],[0.45,8.6],[0.54,8.45],[0.64,8.05],[0.75,7.9],[0.82,8.3],[0.9,9.6],[0.98,11.2],[1.06,12.7],[1.13,13.55],[1.2,13.84],[1.3,13.4],[1.43,11.5],[1.53,9.4],[1.625,7.2],[1.725,4.6],[1.79,2.5],[1.855,0]],
[[0,0],[0.01,.9],[0.03,1.95],[0.06,3.0],[0.1,3.8],[0.15,4.75],[0.2,5.6],[0.28,6.8],[0.35,7.8],[0.45,8.55],[0.54,8.4],[0.64,7.95],[0.77,7.7],[0.84,8.1],[0.92,9.3],[1.0,10.8],[1.08,12.0],[1.14,12.7],[1.2,12.97],[1.29,12.6],[1.415,10.8],[1.51,8.8],[1.6,6.7],[1.69,4.3],[1.75,2.3],[1.814,0]],
[[0,0],[0.01,.9],[0.03,1.9],[0.06,2.95],[0.1,3.75],[0.15,4.7],[0.2,5.55],[0.28,6.75],[0.35,7.75],[0.45,8.5],[0.54,8.3],[0.66,7.6],[0.8,7.2],[0.87,7.8],[0.94,9.0],[1.0,10.0],[1.06,10.8],[1.123,11.26],[1.205,10.9],[1.317,9.35],[1.4,7.65],[1.484,5.85],[1.567,3.7],[1.623,2.0],[1.678,0]],
[[0,0],[0.01,.9],[0.03,1.9],[0.06,2.95],[0.1,3.75],[0.15,4.7],[0.2,5.5],[0.28,6.7],[0.35,7.7],[0.45,8.45],[0.54,8.25],[0.66,7.3],[0.82,6.5],[0.88,7.0],[0.95,8.1],[1.02,9.2],[1.08,9.9],[1.143,10.26],[1.218,9.95],[1.317,8.5],[1.39,7.0],[1.466,5.35],[1.54,3.4],[1.59,1.8],[1.64,0]],
[[0,0],[0.01,.9],[0.03,1.9],[0.06,2.95],[0.1,3.75],[0.15,4.65],[0.2,5.5],[0.28,6.7],[0.35,7.65],[0.45,8.4],[0.54,8.2],[0.66,7.2],[0.83,6.3],[0.89,6.8],[0.96,7.9],[1.03,8.7],[1.11,9.11],[1.177,8.85],[1.266,7.55],[1.333,6.2],[1.4,4.75],[1.467,3.0],[1.512,1.6],[1.556,0]],
[[0,0],[0.01,.9],[0.03,1.9],[0.06,2.9],[0.1,3.7],[0.15,4.65],[0.2,5.45],[0.28,6.65],[0.35,7.6],[0.45,8.35],[0.54,8.1],[0.66,7.0],[0.84,5.9],[0.9,6.4],[0.96,7.4],[1.03,8.05],[1.097,8.35],[1.155,8.1],[1.233,6.95],[1.291,5.7],[1.35,4.35],[1.407,2.75],[1.446,1.5],[1.485,0]],
[[0,0],[0.01,.9],[0.03,1.9],[0.06,2.9],[0.1,3.7],[0.15,4.6],[0.2,5.45],[0.28,6.6],[0.35,7.55],[0.45,8.3],[0.54,8.05],[0.66,6.9],[0.85,5.3],[0.91,5.9],[0.97,6.8],[1.02,7.27],[1.076,7.05],[1.151,6.05],[1.207,4.95],[1.263,3.8],[1.319,2.4],[1.357,1.3],[1.394,0]],
[[0,0],[0.01,.9],[0.03,1.85],[0.06,2.9],[0.1,3.7],[0.15,4.6],[0.2,5.4],[0.28,6.6],[0.35,7.5],[0.45,8.25],[0.54,8.0],[0.66,6.8],[0.85,4.9],[0.91,5.4],[0.97,6.0],[1.02,6.33],[1.065,6.15],[1.126,5.25],[1.172,4.3],[1.218,3.3],[1.263,2.1],[1.293,1.15],[1.323,0]],
[[0,0],[0.01,.9],[0.03,1.85],[0.06,2.85],[0.1,3.65],[0.15,4.55],[0.2,5.4],[0.28,6.55],[0.35,7.45],[0.45,8.15],[0.54,7.9],[0.66,6.7],[0.8,5.6],[0.88,5.4],[0.955,5.39],[1.02,5.0],[1.08,4.3],[1.14,3.3],[1.2,2.1],[1.245,1.1],[1.278,0]],
[[0,0],[0.01,.9],[0.03,1.85],[0.06,2.85],[0.1,3.65],[0.15,4.55],[0.2,5.35],[0.28,6.5],[0.35,7.4],[0.45,8.05],[0.54,7.8],[0.66,6.5],[0.78,5.0],[0.86,4.4],[0.917,4.2],[0.98,3.6],[1.04,2.6],[1.09,1.5],[1.13,0]],
[[0,0],[0.01,.9],[0.03,1.85],[0.06,2.85],[0.1,3.65],[0.15,4.55],[0.2,5.35],[0.28,6.5],[0.35,7.4],[0.45,8.1],[0.54,7.85],[0.66,6.5],[0.78,4.9],[0.88,3.6],[0.96,2.5],[1.03,1.4],[1.085,0]]
];
const cuThetaRed = [
[[0,0],[0.01,.85],[0.03,1.85],[0.06,2.85],[0.1,3.6],[0.15,4.5],[0.2,5.3],[0.28,6.45],[0.35,7.3],[0.42,7.63],[0.5,7.3],[0.58,6.5],[0.66,5.4],[0.74,4.1],[0.82,2.7],[0.88,1.6],[0.92,.8],[0.949,0]],
[[0,0],[0.01,.85],[0.03,1.85],[0.06,2.8],[0.1,3.6],[0.15,4.45],[0.2,5.25],[0.28,6.35],[0.35,7.0],[0.41,7.2],[0.49,6.85],[0.57,6.05],[0.65,5.0],[0.73,3.75],[0.8,2.5],[0.86,1.45],[0.9,.7],[0.93,0]],
[[0,0],[0.01,.85],[0.03,1.8],[0.06,2.8],[0.1,3.55],[0.15,4.4],[0.2,5.15],[0.27,6.05],[0.33,6.5],[0.387,6.6],[0.45,6.25],[0.52,5.4],[0.59,4.3],[0.66,3.0],[0.72,1.75],[0.76,.9],[0.787,0]],
[[0,0],[0.01,.85],[0.03,1.8],[0.06,2.8],[0.1,3.55],[0.15,4.4],[0.2,5.1],[0.27,5.9],[0.33,6.3],[0.39,6.38],[0.45,6.05],[0.52,5.2],[0.59,4.1],[0.65,2.95],[0.71,1.7],[0.75,.85],[0.775,0]],
[[0,0],[0.01,.85],[0.03,1.8],[0.06,2.75],[0.1,3.5],[0.15,4.3],[0.2,4.95],[0.26,5.5],[0.31,5.75],[0.36,5.81],[0.42,5.5],[0.48,4.8],[0.54,3.85],[0.6,2.7],[0.64,1.75],[0.665,.9],[0.684,0]],
[[0,0],[0.01,.85],[0.03,1.8],[0.06,2.75],[0.1,3.5],[0.15,4.25],[0.2,4.85],[0.26,5.3],[0.3,5.48],[0.34,5.52],[0.4,5.25],[0.46,4.6],[0.53,3.6],[0.59,2.5],[0.63,1.6],[0.655,.8],[0.671,0]],
[[0,0],[0.01,.85],[0.03,1.8],[0.06,2.7],[0.1,3.45],[0.15,4.15],[0.2,4.65],[0.26,4.92],[0.336,5.01],[0.39,4.75],[0.45,4.1],[0.51,3.15],[0.56,2.2],[0.59,1.3],[0.607,0]],
[[0,0],[0.01,.85],[0.03,1.75],[0.06,2.7],[0.1,3.4],[0.15,4.05],[0.2,4.5],[0.26,4.68],[0.31,4.72],[0.37,4.45],[0.43,3.85],[0.49,3.0],[0.54,2.1],[0.575,1.2],[0.594,0]],
[[0,0],[0.01,.85],[0.03,1.75],[0.06,2.65],[0.1,3.35],[0.15,3.95],[0.2,4.3],[0.24,4.42],[0.28,4.44],[0.33,4.2],[0.39,3.6],[0.44,2.8],[0.48,1.9],[0.505,1.0],[0.516,0]],
[[0,0],[0.01,.85],[0.03,1.75],[0.06,2.6],[0.1,3.3],[0.15,3.8],[0.2,4.05],[0.27,4.1],[0.32,3.85],[0.37,3.35],[0.42,2.6],[0.46,1.75],[0.48,.9],[0.49,0]],
[[0,0],[0.01,.8],[0.03,1.65],[0.06,2.45],[0.1,3.05],[0.15,3.4],[0.22,3.53],[0.27,3.35],[0.32,2.9],[0.36,2.3],[0.39,1.6],[0.41,.85],[0.426,0]],
[[0,0],[0.01,.8],[0.03,1.6],[0.06,2.35],[0.1,2.9],[0.15,3.15],[0.2,3.2],[0.25,3.0],[0.3,2.55],[0.34,2.0],[0.37,1.35],[0.39,.7],[0.4,0]],
[[0,0],[0.01,.8],[0.03,1.55],[0.06,2.25],[0.1,2.7],[0.15,2.9],[0.19,2.96],[0.23,2.8],[0.27,2.4],[0.3,1.9],[0.325,1.3],[0.34,.7],[0.349,0]],
[[0,0],[0.01,.75],[0.03,1.45],[0.06,2.05],[0.1,2.45],[0.15,2.6],[0.19,2.45],[0.22,2.1],[0.25,1.6],[0.27,1.0],[0.284,0]],
[[0,0],[0.01,.7],[0.03,1.35],[0.06,1.85],[0.1,2.15],[0.129,2.22],[0.16,2.1],[0.19,1.8],[0.22,1.35],[0.24,.85],[0.258,0]],
[[0,0],[0.01,.65],[0.03,1.2],[0.06,1.65],[0.1,1.93],[0.13,1.85],[0.16,1.5],[0.18,1.1],[0.195,.6],[0.207,0]],
[[0,0],[0.01,.6],[0.03,1.1],[0.055,1.45],[0.077,1.6],[0.1,1.5],[0.125,1.2],[0.145,.85],[0.158,.45],[0.168,0]],
[[0,0],[0.01,.5],[0.025,.9],[0.045,1.15],[0.065,1.25],[0.085,1.1],[0.1,.85],[0.115,.5],[0.129,0]],
[[0,0],[0.008,.4],[0.02,.75],[0.04,.91],[0.055,.75],[0.065,.5],[0.077,0]],
[[0,0],[0.005,.25],[0.012,.4],[0.02,.46],[0.03,.3],[0.04,0]]
];

// ---------------- rendering ----------------
const BLUE = '#0000ff', RED = '#ff0000', GRIDC = '#8c8c8c';
const FONT = "'Liberation Sans', Arial, sans-serif";
const tickFont = { family: FONT, size: 53, lineHeight: 1 };
const T_MIN = 770, T_MAX = 1347.8;

const setTicks = vals => axis => { axis.ticks = vals.map(v => ({ value: v })); };
const gridSeries = (grid, vals) => grid.map((x, i) => ({ x, y: vals[i] }));
const pairSeries = pairs => pairs.map(p => ({ x: p[0], y: p[1] }));
const lineDs = (data, color) => ({ data, borderColor: color, borderWidth: 1.7, pointRadius: 0, fill: false,
  cubicInterpolationMode: 'monotone', xAxisID: 'x', yAxisID: 'y' });

function yScales(labelFn) {
  return {
    y: { axis: 'y', type: 'linear', position: 'left', min: 0, max: 20, weight: 1,
      afterBuildTicks: setTicks(rateMajorTicks), afterFit: s => { s.width = 100; },
      grid: { drawOnChartArea: false, drawTicks: true, tickLength: 15, tickWidth: 3, tickColor: '#000' },
      border: { display: true, width: 3, color: '#000', z: 1 },
      ticks: { autoSkip: false, padding: 8, labelOffset: -4, color: '#000', font: tickFont, callback: labelFn } },
    yMinor: { axis: 'y', type: 'linear', position: 'left', min: 0, max: 20, weight: 0,
      afterBuildTicks: setTicks(rateMinorTicks), afterFit: s => { s.width = 0; },
      grid: { drawOnChartArea: false, drawTicks: true, tickLength: 8, tickWidth: 3, tickColor: '#000' },
      border: { display: false }, ticks: { autoSkip: false, callback: () => '' } }
  };
}
function xTempScales(withTicks) {
  // outer axis (weight 1) carries grid lines, short ticks and labels; inner one (weight 0, zero height) carries long ticks
  const x = { axis: 'x', type: 'linear', position: 'bottom', min: T_MIN, max: T_MAX, weight: 1,
    afterBuildTicks: setTicks(tempGridTicks), afterFit: s => { s.height = withTicks ? 100 : 0; },
    grid: { drawOnChartArea: true, color: GRIDC, lineWidth: 1, drawTicks: withTicks, tickLength: 9, tickWidth: 3, tickColor: '#000' },
    border: { display: true, width: 3, color: '#000', z: 1 },
    ticks: { autoSkip: false, maxRotation: 0, minRotation: 0, padding: 17, color: '#000', font: tickFont,
      callback: v => (withTicks && tempLabelTicks.includes(Number(v))) ? String(v) : '' } };
  if (!withTicks) return { x };
  return { x, xLong: { axis: 'x', type: 'linear', position: 'bottom', min: T_MIN, max: T_MAX, weight: 0,
    afterBuildTicks: setTicks(tempLongTicks), afterFit: s => { s.height = 0; },
    grid: { drawOnChartArea: false, drawTicks: true, tickLength: 16, tickWidth: 3, tickColor: '#000' },
    border: { display: false }, ticks: { autoSkip: false, callback: () => '' } } };
}
function xThetaScales(showLabels) {
  return {
    xMinor: { axis: 'x', type: 'linear', position: 'bottom', min: 0, max: 2, weight: 0,
      afterBuildTicks: setTicks(thetaMinorTicks), afterFit: s => { s.height = 0; },
      grid: { drawOnChartArea: false, drawTicks: true, tickLength: 9, tickWidth: 3, tickColor: '#000' },
      border: { display: true, width: 3, color: '#000', z: 1 }, ticks: { autoSkip: false, callback: () => '' } },
    x: { axis: 'x', type: 'linear', position: 'bottom', min: 0, max: 2, weight: 1,
      afterBuildTicks: setTicks(thetaMajorTicks), afterFit: s => { s.height = 100; },
      grid: { drawOnChartArea: true, color: GRIDC, lineWidth: 1, drawTicks: true, tickLength: 16, tickWidth: 3, tickColor: '#000' },
      border: { display: false },
      ticks: { autoSkip: false, maxRotation: 0, minRotation: 0, padding: 3, color: '#000', font: tickFont,
        callback: v => showLabels ? Number(v).toFixed(1) : '' } }
  };
}

const framePlugin = { id: 'frame', afterDraw(chart, args, o) {
  const a = chart.chartArea, c = chart.ctx;
  c.save(); c.strokeStyle = '#000'; c.lineWidth = 3; c.beginPath();
  if (o.top) { c.moveTo(a.left - 1.5, a.top); c.lineTo(a.right + 1.5, a.top); }
  if (o.right) { c.moveTo(a.right, a.top - 1.5); c.lineTo(a.right, a.bottom + 1.5); }
  c.stroke(); c.restore();
} };

function makeChart(id, datasets, scales, padding, frame) {
  return new Chart(document.getElementById(id), {
    type: 'line',
    data: { datasets },
    options: { responsive: false, animation: false, devicePixelRatio: 1, events: [],
      layout: { padding },
      plugins: { legend: { display: false }, tooltip: { enabled: false }, frame },
      scales },
    plugins: [framePlugin]
  });
}

const PAGE_W = 2096, PAGE_H = 2152;
const AX_L = 224, AX_M = 1124, AX_R = 2023, AX_T = 75, AX_MID = 1004, AX_B = 1937;

const agTDs = [...agBlueRate.map(v => lineDs(gridSeries(agTempGrid, v), BLUE)), ...agRedRate.map(v => lineDs(gridSeries(agTempGrid, v), RED))];
const agThDs = [...agThetaBlue.map(p => lineDs(pairSeries(p), BLUE)), ...agThetaRed.map(p => lineDs(pairSeries(p), RED))];
const cuTDs = [...cuBlueRate.map(v => lineDs(gridSeries(cuTempGrid, v), BLUE)), ...cuRedRate.map(v => lineDs(gridSeries(cuTempGrid, v), RED))];
const cuThDs = [...cuThetaBlue.map(p => lineDs(pairSeries(p), BLUE)), ...cuThetaRed.map(p => lineDs(pairSeries(p), RED))];

makeChart('cTL', agTDs, { ...yScales(v => String(v)), ...xTempScales(false) },
  { left: AX_L - 100, right: PAGE_W - AX_M, top: AX_T, bottom: PAGE_H - AX_MID }, { top: true });
makeChart('cTR', agThDs, { ...yScales(() => ''), ...xThetaScales(false) },
  { left: AX_M - 100, right: PAGE_W - AX_R, top: AX_T, bottom: PAGE_H - AX_MID - 100 }, { top: true, right: true });
makeChart('cBL', cuTDs, { ...yScales(v => v === 20 ? '' : String(v)), ...xTempScales(true) },
  { left: AX_L - 100, right: PAGE_W - AX_M, top: AX_MID, bottom: PAGE_H - AX_B - 100 }, {});
makeChart('cBR', cuThDs, { ...yScales(() => ''), ...xThetaScales(true) },
  { left: AX_M - 100, right: PAGE_W - AX_R, top: AX_MID, bottom: PAGE_H - AX_B - 100 }, { right: true });

// ---------------- text and boxes ----------------
const page = document.getElementById('page');
function addBox(l, t, w, h) {
  const b = document.createElement('div'); b.className = 'box';
  Object.assign(b.style, { left: l + 'px', top: t + 'px', width: w + 'px', height: h + 'px' });
  page.appendChild(b);
}
function addText(html, o) {
  const el = document.createElement('div'); el.className = 'txt';
  el.style.font = o.font; el.style.color = o.color || '#000';
  el.innerHTML = html + '<span class="bl"></span>';
  page.appendChild(el);
  const base = el.querySelector('.bl').offsetTop;
  const left = (o.cx !== undefined) ? o.cx - el.offsetWidth / 2 : o.left;
  el.style.left = left + 'px';
  el.style.top = (o.baseline - base) + 'px';
  if (o.rotate) { el.style.transformOrigin = '0px ' + base + 'px'; el.style.transform = 'rotate(' + o.rotate + 'deg)'; }
}
const SANS = "'Liberation Sans', Arial, sans-serif";
const SERIF = "'Liberation Serif', 'Times New Roman', serif";

addBox(849.5, 130, 600, 117);
addText('Ag/Re(0001)-st', { font: '72px ' + SANS, cx: 1149.6, baseline: 211.7 });
addBox(862, 1075, 590, 135);
addText('Cu/Re(0001)-st', { font: '72px ' + SANS, cx: 1157, baseline: 1164 });

addText('β', { font: 'bold 66px ' + SERIF, color: BLUE, left: 337, baseline: 407 });
addText('1', { font: 'bold 39px ' + SANS, color: BLUE, left: 375, baseline: 436 });
addText('β', { font: 'bold 66px ' + SERIF, color: RED, left: 670, baseline: 704 });
addText('2', { font: 'bold 40px ' + SANS, color: RED, left: 707, baseline: 733 });
addText('β', { font: 'bold 66px ' + SERIF, color: BLUE, left: 543, baseline: 1397 });
addText('1', { font: 'bold 39px ' + SANS, color: BLUE, left: 578, baseline: 1426 });
addText('β', { font: 'bold 66px ' + SERIF, color: RED, left: 872, baseline: 1672 });
addText('2', { font: 'bold 40px ' + SANS, color: RED, left: 909, baseline: 1701 });

addText('T [K]', { font: '72px ' + SANS, cx: 664.5, baseline: 2107 });
addText('Θ [ML]', { font: '72px ' + SANS, cx: 1542.5, baseline: 2095 });
addText('Rate [10<span style="font-size:32px;position:relative;top:-30px">-3</span> ML/K]',
  { font: '53px ' + SANS, left: 85, baseline: 1215, rotate: -90 });
</script>
</body></html>
